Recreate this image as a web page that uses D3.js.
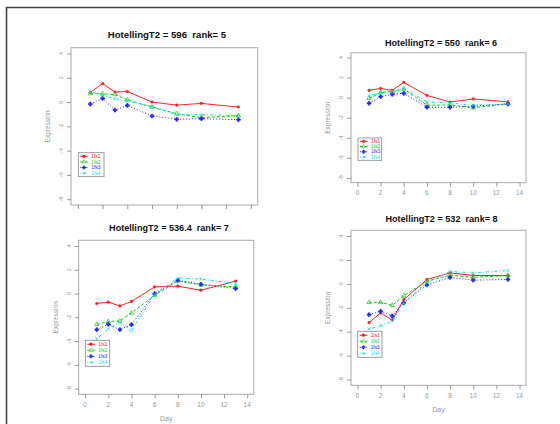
<!DOCTYPE html>
<html>
<head>
<meta charset="utf-8">
<script src="https://cdn.jsdelivr.net/npm/d3@7"></script>
<style>
  body { margin: 0; background: #fff; }
  svg { display: block; font-family: "Liberation Sans", Arial, sans-serif; }
  .title { white-space: pre; }
</style>
</head>
<body>
<svg id="chart" width="560" height="424"></svg>
<script>
// x values (days) shared by every panel
const days = [1, 2, 3, 4, 6, 8, 10, 13];
const seriesNames = ["1fs1", "1fs2", "1fs3", "1fs4"];
const xTicks = [0, 2, 4, 6, 8, 10, 12, 14];
const yTicks = [-8, -6, -4, -2, 0, 2, 4];
const titles = [
  "HotellingT2 = 596  rank= 5",
  "HotellingT2 = 550  rank= 6",
  "HotellingT2 = 536.4  rank= 7",
  "HotellingT2 = 532  rank= 8"
];

// expression values, one row per series (1fs1..1fs4)
const rank5 = [
  [0.8, 1.52, 0.82, 0.87, 0.0, -0.25, -0.11, -0.41],
  [0.7, 0.68, 0.62, 0.19, -0.41, -0.96, -1.29, -1.12],
  [-0.16, 0.3, -0.66, -0.28, -1.15, -1.42, -1.37, -1.45],
  [0.84, 0.57, 0.27, 0.08, -0.38, -1.04, -1.04, -1.1]
];
const rank6 = [
  [0.72, 0.92, 0.72, 1.52, 0.22, -0.44, -0.13, -0.43],
  [-0.07, 0.5, 0.62, 0.86, -0.76, -0.73, -1.02, -0.6],
  [-0.56, 0.1, 0.33, 0.43, -0.96, -0.96, -0.86, -0.63],
  [0.2, 0.52, 0.62, 0.92, -0.43, -0.53, -0.76, -0.62]
];
const rank7 = [
  [-0.84, -0.73, -1.04, -0.67, 0.56, 0.62, 0.28, 1.04],
  [-2.59, -2.36, -2.31, -1.63, -0.15, 1.06, 0.73, 0.56],
  [-3.04, -2.59, -3.04, -2.62, 0.0, 1.12, 0.78, 0.42],
  [-3.8, -2.98, -2.42, -3.12, -0.08, 1.29, 1.23, 0.84]
];
const rank8 = [
  [-3.24, -2.43, -3.02, -1.31, 0.37, 0.92, 0.7, 0.7],
  [-1.54, -1.54, -1.79, -1.0, 0.23, 0.73, 0.54, 0.7],
  [-2.57, -2.29, -2.68, -1.59, -0.08, 0.54, 0.31, 0.37],
  [-3.78, -3.49, -3.13, -1.59, 0.12, 1.04, 0.92, 1.12]
];

const colors = ["#f22", "#1c1", "#22f", "#1dd"];
const dashes = [null, "3,2", "1,2", "1,2,3,2"];
const symbols = [d3.symbolCircle, d3.symbolTriangle, d3.symbolCross, d3.symbolX];

// panel placement inside the screenshot
const panels = [
  { data: rank5, title: titles[0], box: [71, 257.7, 47.7, 205], titleX: 167, titleY: 37.5,
    legend: [78.3, 152.7, 25.7, 24], clip: [0, 8, 280, 203], showX: false, showDay: false, fs: 9.6 },
  { data: rank6, title: titles[1], box: [351, 526, 52.7, 182.7], titleX: 441, titleY: 46,
    legend: [358, 138, 23.7, 22.3], clip: [280, 8, 280, 195], showX: true, showDay: false, fs: 9.1 },
  { data: rank7, title: titles[2], box: [78.7, 253.7, 240.3, 394.3], titleX: 169, titleY: 230.5,
    legend: [85.3, 340.3, 24.4, 26], clip: [0, 212, 280, 212], showX: true, showDay: true, fs: 9.1 },
  { data: rank8, title: titles[3], box: [351, 526, 230.3, 385.3], titleX: 441.5, titleY: 221.5,
    legend: [357.7, 331.3, 24.3, 26], clip: [280, 205, 280, 219], showX: true, showDay: true, fs: 9.1 }
];

const svg = d3.select("#chart");

panels.forEach((p, i) => {
  const [x0, x1, y0, y1] = p.box;
  const clipId = "clip" + i;
  svg.append("clipPath").attr("id", clipId)
    .append("rect")
    .attr("x", p.clip[0]).attr("y", p.clip[1])
    .attr("width", p.clip[2]).attr("height", p.clip[3]);

  const g = svg.append("g").attr("clip-path", `url(#${clipId})`);

  const x = d3.scaleLinear().domain([-0.56, 14.56]).range([x0, x1]);
  const y = d3.scaleLinear().domain([-8.48, 4.48]).range([y1, y0]);

  g.append("text")
    .attr("class", "title")
    .attr("x", p.titleX).attr("y", p.titleY)
    .attr("text-anchor", "middle")
    .attr("font-weight", "bold")
    .attr("font-size", p.fs)
    .attr("fill", "#111")
    .text(p.title);

  g.append("rect")
    .attr("x", x0).attr("y", y0)
    .attr("width", x1 - x0).attr("height", y1 - y0)
    .attr("fill", "none").attr("stroke", "#aaa").attr("stroke-width", 1);

  // y axis, labels rotated as in R
  const yAxis = d3.axisLeft(y).tickValues(yTicks).tickSize(4).tickFormat("");
  const ya = g.append("g").attr("transform", `translate(${x0},0)`).call(yAxis);
  ya.select(".domain").remove();
  ya.selectAll("line").attr("stroke", "#999");
  g.selectAll(".ylab")
    .data(yTicks)
    .join("text")
    .attr("transform", (d) => `translate(${x0 - 8},${y(d)}) rotate(-90)`)
    .attr("text-anchor", "middle")
    .attr("font-size", 6)
    .attr("fill", "#999")
    .text((d) => d);

  const xAxis = d3.axisBottom(x).tickValues(xTicks).tickSize(4).tickFormat("");
  const xa = g.append("g").attr("transform", `translate(0,${y1})`).call(xAxis);
  xa.select(".domain").remove();
  xa.selectAll("line").attr("stroke", "#999");
  if (p.showX) {
    g.selectAll(".xlab")
      .data(xTicks)
      .join("text")
      .attr("x", (d) => x(d))
      .attr("y", y1 + 12.5)
      .attr("text-anchor", "middle")
      .attr("font-size", 6.5)
      .attr("fill", "#999")
      .text((d) => d);
  }
  if (p.showDay) {
    g.append("text")
      .attr("x", (x0 + x1) / 2).attr("y", y1 + 27)
      .attr("text-anchor", "middle")
      .attr("font-size", 7)
      .attr("fill", "#999")
      .text("Day");
  }

  g.append("text")
    .attr("transform", `translate(${x0 - 21},${(y0 + y1) / 2}) rotate(-90)`)
    .attr("text-anchor", "middle")
    .attr("font-size", 6.5)
    .attr("fill", "#999")
    .text("Expression");

  const line = d3.line().x((d, j) => x(days[j])).y((d) => y(d));

  p.data.forEach((vals, s) => {
    g.append("path")
      .datum(vals)
      .attr("d", line)
      .attr("fill", "none")
      .attr("stroke", colors[s])
      .attr("stroke-width", 1)
      .attr("stroke-dasharray", dashes[s]);
    g.selectAll(".pt" + s)
      .data(vals)
      .join("path")
      .attr("transform", (d, j) => `translate(${x(days[j])},${y(d)})`)
      .attr("d", d3.symbol().type(symbols[s]).size(s === 0 ? 6 : 8))
      .attr("fill", s === 1 ? "none" : colors[s])
      .attr("stroke", colors[s])
      .attr("stroke-width", s === 0 ? 0.4 : 0.7);
  });

  // legend
  const [lx, ly, lw, lh] = p.legend;
  g.append("rect")
    .attr("x", lx).attr("y", ly).attr("width", lw).attr("height", lh)
    .attr("fill", "#fff").attr("stroke", "#888").attr("stroke-width", 0.8);
  const step = lh / 4.3;
  seriesNames.forEach((name, s) => {
    const cy = ly + step * 0.65 + s * step;
    g.append("line")
      .attr("x1", lx + 2).attr("x2", lx + 9.5)
      .attr("y1", cy).attr("y2", cy)
      .attr("stroke", colors[s]).attr("stroke-width", 1)
      .attr("stroke-dasharray", dashes[s]);
    g.append("path")
      .attr("transform", `translate(${lx + 5.7},${cy})`)
      .attr("d", d3.symbol().type(symbols[s]).size(6))
      .attr("fill", s === 1 ? "none" : colors[s])
      .attr("stroke", colors[s]).attr("stroke-width", 0.6);
    g.append("text")
      .attr("x", lx + 13).attr("y", cy + 1.7)
      .attr("font-size", 4.8)
      .attr("fill", colors[s])
      .text(name);
  });
});

// page frame around the screenshot
svg.append("path")
  .attr("d", "M6.5,424 V7.5 H560")
  .attr("fill", "none")
  .attr("stroke", "#444")
  .attr("stroke-width", 1.6);
</script>
</body>
</html>
